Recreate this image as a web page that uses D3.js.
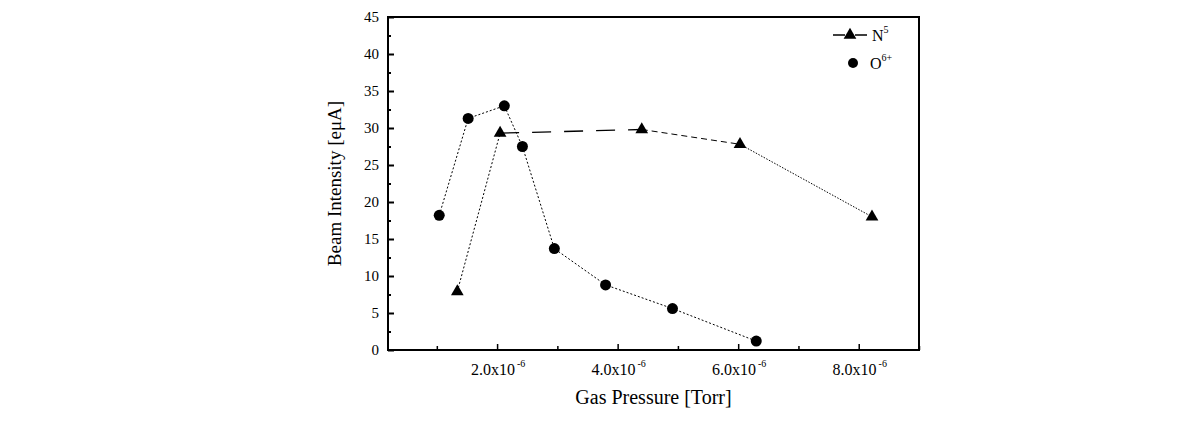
<!DOCTYPE html>
<html>
<head>
<meta charset="utf-8">
<script src="https://cdn.jsdelivr.net/npm/d3@7"></script>
<style>
  body { margin: 0; background: #fff; }
  text { font-family: "Liberation Serif", "DejaVu Serif", serif; fill: #000; }
</style>
</head>
<body>
<svg></svg>
<script>
// gas pressure in units of 1e-6 Torr, beam intensity in euA
var nPressure = [1.34, 2.05, 4.40, 6.03, 8.22];
var nIntensity = [7.9, 29.3, 29.8, 27.8, 18.0];
var oPressure = [1.04, 1.52, 2.12, 2.42, 2.95, 3.80, 4.91, 6.30];
var oIntensity = [18.2, 31.3, 33.0, 27.5, 13.7, 8.8, 5.6, 1.2];
var xTicks = [2, 4, 6, 8];
var yTicks = [0, 5, 10, 15, 20, 25, 30, 35, 40, 45];

// dash pattern of each N5 segment (the original mixes styles)
var nSegmentDash = ["2,2", "19,13", "6,4", "1.5,1.5"];

var makeTranslateString = function (x, y) {
  return "translate(" + x + "," + y + ")";
};

var screen = { width: 1190, height: 441 };
var margins = { left: 388, right: 271, top: 17, bottom: 91 };
var graph = {
  width: screen.width - margins.left - margins.right,
  height: screen.height - margins.top - margins.bottom
};

var svg = d3.select("svg").attr("width", screen.width).attr("height", screen.height);

var xScale = d3.scaleLinear().domain([0.19, 9.0]).range([0, graph.width]);
var yScale = d3.scaleLinear().domain([0, 45]).range([graph.height, 0]);

var plot = svg.append("g").attr("transform", makeTranslateString(margins.left, margins.top));

// ticks (inward)
var yAxis = d3.axisLeft(yScale).tickValues(d3.range(0, 45.1, 2.5)).tickSize(-6).tickFormat("");
var yAxisG = plot.append("g").call(yAxis);
yAxisG.selectAll(".tick line").attr("stroke-width", 2).attr("x2", function (d) {
  return d % 5 === 0 ? 6 : 3;
});
yAxisG.select(".domain").remove();

var xAxis = d3.axisBottom(xScale).tickValues(d3.range(1, 9.1, 1)).tickSize(-6).tickFormat("");
var xAxisG = plot.append("g").attr("transform", makeTranslateString(0, graph.height)).call(xAxis);
xAxisG.selectAll(".tick line").attr("stroke-width", 1.5).attr("y2", function (d) {
  return d % 2 === 0 ? -6 : -4;
});
xAxisG.select(".domain").remove();

// frame
plot.append("rect")
  .attr("width", graph.width)
  .attr("height", graph.height)
  .attr("fill", "none")
  .attr("stroke", "#000")
  .attr("stroke-width", 2);

// y tick labels
plot.selectAll(".ylab")
  .data(yTicks)
  .enter()
  .append("text")
  .attr("class", "ylab")
  .attr("x", -9)
  .attr("y", function (d) { return yScale(d) + 5; })
  .attr("text-anchor", "end")
  .style("font-size", "15px")
  .text(function (d) { return d; });

// x tick labels with superscript
var xl = plot.selectAll(".xlab")
  .data(xTicks)
  .enter()
  .append("text")
  .attr("class", "xlab")
  .attr("x", function (d) { return xScale(d) + 1; })
  .attr("y", graph.height + 25)
  .attr("text-anchor", "middle")
  .style("font-size", "16px");
xl.append("tspan").text(function (d) { return d.toFixed(1) + "x10"; });
xl.append("tspan").attr("dy", -8).attr("dx", 2).style("font-size", "10px").text("-6");

// data lines
var line = d3.line()
  .x(function (d) { return xScale(d[0]); })
  .y(function (d) { return yScale(d[1]); });

var oPoints = d3.zip(oPressure, oIntensity);
var nPoints = d3.zip(nPressure, nIntensity);

plot.append("path")
  .attr("d", line(oPoints))
  .attr("fill", "none")
  .attr("stroke", "#000")
  .attr("stroke-width", 1)
  .attr("stroke-dasharray", "2,2");

plot.selectAll(".nseg")
  .data(d3.pairs(nPoints))
  .enter()
  .append("path")
  .attr("class", "nseg")
  .attr("d", function (p) { return line(p); })
  .attr("fill", "none")
  .attr("stroke", "#000")
  .attr("stroke-width", function (p, i) { return i === 1 ? 1.3 : 1; })
  .attr("stroke-dasharray", function (p, i) { return nSegmentDash[i]; });

// markers
var triangle = d3.symbol().type(d3.symbolTriangle).size(70);

plot.selectAll(".opt")
  .data(oPoints)
  .enter()
  .append("circle")
  .attr("class", "opt")
  .attr("cx", function (d) { return xScale(d[0]); })
  .attr("cy", function (d) { return yScale(d[1]); })
  .attr("r", 5.5)
  .attr("fill", "#000");

plot.selectAll(".npt")
  .data(nPoints)
  .enter()
  .append("path")
  .attr("class", "npt")
  .attr("d", triangle)
  .attr("transform", function (d) { return makeTranslateString(xScale(d[0]), yScale(d[1])); })
  .attr("fill", "#000");

// legend
var legend = plot.append("g").attr("transform", makeTranslateString(445, 18));
legend.append("line").attr("x1", 0).attr("x2", 34).attr("y1", 0).attr("y2", 0)
  .attr("stroke", "#000").attr("stroke-width", 1.3).attr("stroke-dasharray", "12,10");
legend.append("path").attr("d", triangle).attr("transform", makeTranslateString(17, 0)).attr("fill", "#000");
var nl = legend.append("text").attr("x", 39).attr("y", 6).style("font-size", "16px");
nl.append("tspan").text("N");
nl.append("tspan").attr("dy", -8).style("font-size", "10px").text("5");
legend.append("circle").attr("cx", 20).attr("cy", 28).attr("r", 5).attr("fill", "#000");
var ol = legend.append("text").attr("x", 37).attr("y", 34).style("font-size", "16px");
ol.append("tspan").text("O");
ol.append("tspan").attr("dy", -8).style("font-size", "10px").text("6+");

// axis titles
svg.append("text")
  .attr("x", margins.left + graph.width / 2)
  .attr("y", 404)
  .attr("text-anchor", "middle")
  .style("font-size", "20px")
  .text("Gas Pressure [Torr]");

svg.append("text")
  .attr("transform", "translate(341," + (margins.top + graph.height / 2) + ") rotate(-90)")
  .attr("text-anchor", "middle")
  .style("font-size", "19px")
  .text("Beam Intensity [eμA]");
</script>
</body>
</html>
